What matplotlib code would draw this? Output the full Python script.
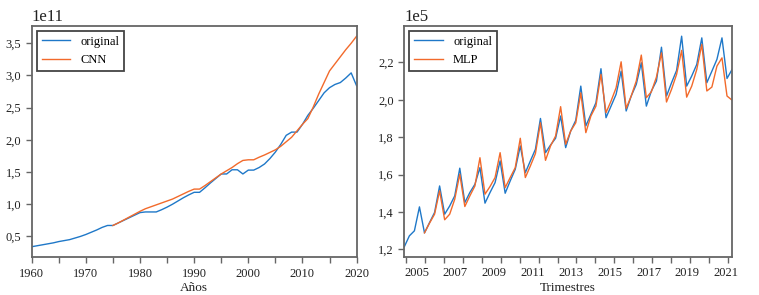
import numpy as np
import matplotlib
matplotlib.use("Agg")
import matplotlib.pyplot as plt
from matplotlib.ticker import ScalarFormatter, MultipleLocator, FixedLocator

plt.rcParams['font.family'] = ['Liberation Serif', 'DejaVu Serif']

# ---------------- data: left panel (annual, units of 1e11) ----------------
years = np.arange(1960, 2021)
original_annual = np.array([
    0.34, 0.355, 0.37, 0.385, 0.40, 0.42, 0.435, 0.45, 0.475, 0.50,   # 1960-69
    0.53, 0.565, 0.60, 0.64, 0.67, 0.67, 0.71, 0.75, 0.79, 0.83,      # 1970-79
    0.87, 0.88, 0.88, 0.88, 0.915, 0.955, 1.00, 1.05, 1.10, 1.145,    # 1980-89
    1.185, 1.185, 1.255, 1.33, 1.40, 1.47, 1.47, 1.535, 1.535, 1.47,  # 1990-99
    1.53, 1.53, 1.57, 1.625, 1.71, 1.81, 1.93, 2.07, 2.12, 2.12,      # 2000-09
    2.24, 2.38, 2.49, 2.61, 2.73, 2.81, 2.86, 2.89, 2.96, 3.04,       # 2010-19
    2.84])                                                            # 2020
cnn_years = np.arange(1975, 2021)
cnn_annual = np.array([
    0.67, 0.71, 0.755, 0.80, 0.845,                                   # 1975-79
    0.89, 0.93, 0.96, 0.99, 1.02, 1.05, 1.08, 1.12, 1.16, 1.20,       # 1980-89
    1.235, 1.235, 1.29, 1.35, 1.41, 1.47, 1.52, 1.57, 1.63, 1.68,     # 1990-99
    1.69, 1.69, 1.73, 1.765, 1.805, 1.845, 1.90, 1.97, 2.04, 2.14,    # 2000-09
    2.24, 2.33, 2.51, 2.71, 2.89, 3.07, 3.18, 3.29, 3.40, 3.50,       # 2010-19
    3.61])                                                            # 2020
scale_left = 1e11

# ---------------- data: right panel (quarterly, units of 1e5) ----------------
start_year = 2005
original_q = np.array([
    1.214, 1.272, 1.299, 1.427, 1.288, 1.343, 1.397, 1.539,
    1.388, 1.432, 1.486, 1.634, 1.450, 1.504, 1.548, 1.637,
    1.447, 1.504, 1.557, 1.673, 1.500, 1.566, 1.628, 1.753,
    1.610, 1.673, 1.735, 1.900, 1.717, 1.758, 1.794, 1.913,
    1.744, 1.833, 1.890, 2.073, 1.860, 1.922, 1.984, 2.166,
    1.904, 1.966, 2.029, 2.153, 1.940, 2.020, 2.082, 2.198,
    1.966, 2.047, 2.100, 2.281, 2.020, 2.091, 2.157, 2.340,
    2.073, 2.127, 2.189, 2.331, 2.091, 2.153, 2.216, 2.331,
    2.114, 2.162])
mlp_start = 4
mlp_q = np.array([
    1.288, 1.340, 1.388, 1.513,
    1.358, 1.388, 1.468, 1.602, 1.429, 1.486, 1.539, 1.690,
    1.495, 1.536, 1.584, 1.717, 1.530, 1.584, 1.637, 1.794,
    1.584, 1.646, 1.712, 1.877, 1.676, 1.753, 1.806, 1.963,
    1.762, 1.833, 1.877, 2.037, 1.824, 1.913, 1.966, 2.136,
    1.931, 1.993, 2.064, 2.203, 1.954, 2.020, 2.100, 2.239,
    2.011, 2.043, 2.121, 2.251, 1.988, 2.056, 2.136, 2.264,
    2.014, 2.073, 2.162, 2.296, 2.047, 2.068, 2.180, 2.224,
    2.020, 1.998])
scale_right = 1e5
q_labels = ['2005', '2007', '2009', '2011', '2013', '2015', '2017', '2019', '2021']

t_all = start_year + np.arange(len(original_q)) / 4.0
t_mlp = t_all[mlp_start:]

# ---------------- style ----------------
BLUE = '#1f78c8'
ORANGE = '#f26a2b'
SPINE = '#666666'
TXT = '#222222'


class CommaFormatter(ScalarFormatter):
    def __call__(self, x, pos=None):
        return super().__call__(x, pos).replace('.', ',')


def style_axes(ax):
    for s in ax.spines.values():
        s.set_color(SPINE)
        s.set_linewidth(1.3)
    ax.tick_params(axis='both', which='both', direction='out', color=SPINE,
                   labelcolor=TXT, labelsize=9, width=1.0, length=4)
    fmt = CommaFormatter(useOffset=False, useMathText=False)
    fmt.set_powerlimits((0, 0))
    ax.yaxis.set_major_formatter(fmt)
    ax.yaxis.get_offset_text().set_fontsize(12)
    ax.yaxis.get_offset_text().set_color(TXT)


def add_legend(ax, labels):
    leg = ax.legend(labels, loc='upper left', fontsize=9, fancybox=False,
                    framealpha=1.0, edgecolor='#444444', borderaxespad=0.4,
                    handlelength=2.3)
    leg.get_frame().set_linewidth(1.3)


fig = plt.figure(figsize=(7.59, 2.95), dpi=100)

# ---------------- left panel ----------------
ax1 = fig.add_axes([0.0418, 0.128, 0.428, 0.785])
ax1.plot(years, original_annual * scale_left, color=BLUE, lw=1.0)
ax1.plot(cnn_years, cnn_annual * scale_left, color=ORANGE, lw=1.0)
ax1.set_xlim(1960, 2020)
ax1.xaxis.set_major_locator(MultipleLocator(10))
ax1.xaxis.set_minor_locator(MultipleLocator(5))
style_axes(ax1)
ax1.set_xlabel('Años', fontsize=9.5, color=TXT, labelpad=2)
add_legend(ax1, ['original', 'CNN'])

# ---------------- right panel ----------------
ax2 = fig.add_axes([0.5327, 0.128, 0.4318, 0.785])
ax2.plot(t_all, original_q * scale_right, color=BLUE, lw=1.0)
ax2.plot(t_mlp, mlp_q * scale_right, color=ORANGE, lw=1.0)
ax2.set_xlim(t_all[0], t_all[-1])
style_axes(ax2)
ax2.xaxis.set_major_locator(FixedLocator(np.linspace(2005.62, 2020.94, len(q_labels))))
ax2.set_xticklabels(q_labels)
ax2.xaxis.set_minor_locator(FixedLocator(np.linspace(2005.1, 2021.03, 18)))
ax2.tick_params(axis='x', which='major', length=0, pad=7)
ax2.set_xlabel('Trimestres', fontsize=9.5, color=TXT, labelpad=2)
add_legend(ax2, ['original', 'MLP'])

fig.savefig('out.png', dpi=100)
